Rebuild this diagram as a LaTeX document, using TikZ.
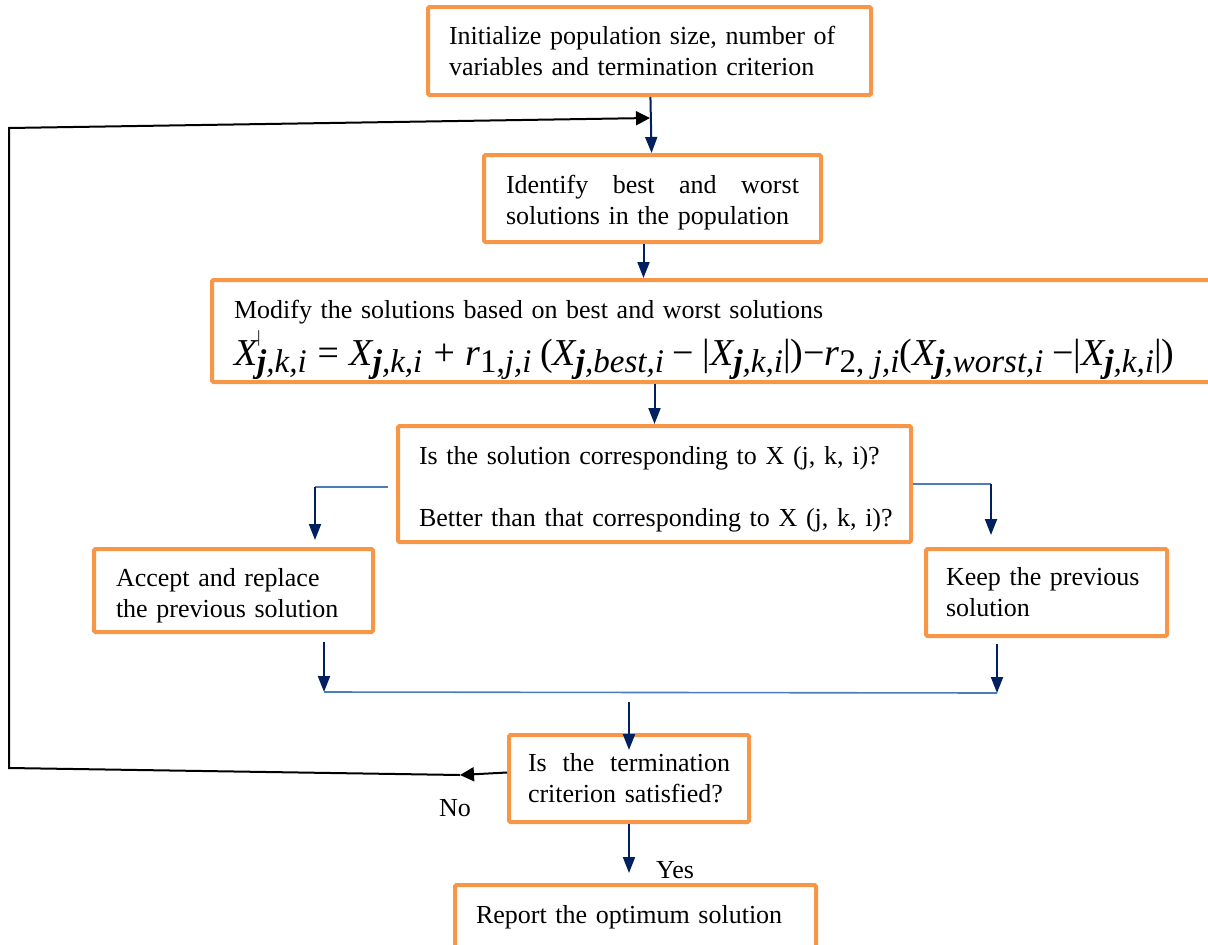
\documentclass[tikz,border=0pt]{standalone}
\usepackage{fontspec}
\setmainfont{Liberation Serif}
\usepackage{tikz}
\usetikzlibrary{arrows.meta}

\definecolor{boxorange}{HTML}{F79646}
\definecolor{arrownavy}{HTML}{002060}
\definecolor{splitblue}{HTML}{4A7EBB}

% index set low after a symbol
\newcommand{\lowidx}[1]{\raisebox{-0.18em}{\fontsize{33}{33}\selectfont\itshape #1}}
\newcommand{\bj}{\textbf{\textit{j}}}
\newcommand{\upmark}{\makebox[0pt][l]{\raisebox{0.6em}{\fontsize{17}{17}\selectfont\upshape |}}}

\begin{document}
\begin{tikzpicture}[x=1pt, y=-1pt,
    procbox/.style={draw=boxorange, line width=4pt, rounded corners=1.5pt,
        align=left, inner ysep=0pt, font=\fontsize{26}{31}\selectfont,
        execute at begin node={\hyphenpenalty=10000}},
    flow/.style={draw=arrownavy, line width=2pt, -{Triangle[width=12pt,length=16pt]}},
    splitline/.style={draw=splitblue, line width=1.6pt},
    backline/.style={draw=black, line width=2pt},
    tag/.style={font=\fontsize{26}{31}\selectfont, inner sep=0pt}]
    \useasboundingbox (0,0) rectangle (1208,945);

    % draw boxes
    \node[procbox, minimum width=443pt, minimum height=88pt, text width=401pt, inner xsep=21pt]
        (init) at (649.5,51) {Initialize population size, number of\\variables and termination criterion};
    \node[procbox, minimum width=337pt, minimum height=87pt, text width=293pt, inner xsep=22pt]
        (ident) at (652.5,198.5) {\rule{0pt}{26pt}Identify\hfill best\hfill and\hfill worst\\solutions in the population};
    \node[procbox, minimum width=1002pt, minimum height=102pt, text width=958pt, inner xsep=22pt]
        (modify) at (713,331) {\rule{0pt}{36pt}Modify the solutions based on best and worst solutions\\[6pt]
        \mbox{\fontsize{38}{38}\selectfont\itshape X\upmark\lowidx{\bj,k,i} = X\lowidx{\bj,k,i} + r\lowidx{\upshape 1,\itshape j,i}
        {\upshape(}X\lowidx{\bj,best,i} {\upshape −} {\upshape|}X\lowidx{\bj,k,i}{\upshape|)}{\upshape −}r\lowidx{\upshape 2, \itshape j,i}{\upshape(}X\lowidx{\bj,worst,i} {\upshape −}{\upshape|}X\lowidx{\bj,k,i}{\upshape|)}}};
    \node[procbox, minimum width=513pt, minimum height=116pt, text width=471pt, inner xsep=21pt]
        (decide) at (654.5,484) {\rule{0pt}{28pt}\mbox{Is the solution corresponding to X (j, k, i)?}\\[31pt]\mbox{Better than that corresponding to X (j, k, i)?}};
    \node[procbox, minimum width=279pt, minimum height=83pt, text width=235pt, inner xsep=22pt]
        (accept) at (233.5,590.5) {\rule{0pt}{28pt}Accept and replace\\the previous solution};
    \node[procbox, minimum width=241pt, minimum height=87pt, text width=201pt, inner xsep=20pt]
        (keep) at (1046.5,592.5) {Keep the previous\\solution};
    \node[procbox, minimum width=240pt, minimum height=87pt, text width=202pt, inner xsep=19pt]
        (term) at (629,778.5) {Is\hfill the\hfill termination\\criterion satisfied?};
    \node[procbox, minimum width=361pt, minimum height=64pt, text width=319pt, inner xsep=21pt]
        (report) at (635.5,917) {Report the optimum solution};

    % labels
    \node[tag] (yes) at (675,870) {Yes};
    \node[tag] (no) at (455,808) {No};

    % corner points
    \coordinate (lsplit) at (315,487);
    \coordinate (rsplit) at (991,484);
    \coordinate (lmerge) at (324,692);
    \coordinate (rmerge) at (997,693);
    \coordinate (noarrow) at (460,775);
    \coordinate (cbot) at (9,768);
    \coordinate (ctop) at (9,128);
    \coordinate (loopin) at (650,118);

    % draw main arrows
    \draw[flow] (init) -- (ident);
    \draw[flow] ([xshift=-9pt]ident.south) -- ([xshift=-9pt]ident.south |- modify.north);
    \draw[flow] (decide.north |- modify.south) -- (decide.north);

    % draw branches
    \draw[splitline] ([xshift=-8pt]decide.west |- lsplit) -- (lsplit);
    \draw[flow, shorten >=7pt] (lsplit) -- (lsplit |- accept.north);
    \draw[splitline] (decide.east |- rsplit) -- (rsplit);
    \draw[flow, shorten >=12pt] (rsplit) -- (rsplit |- keep.north);

    % draw merge
    \draw[flow, shorten <=8pt] (lmerge |- accept.south) -- (lmerge);
    \draw[flow, shorten <=6pt] (rmerge |- keep.south) -- (rmerge);
    \draw[splitline] (lmerge) -- (rmerge);
    \draw[flow, shorten <=10pt, shorten >=-17pt] (term.north |- lmerge) -- (term.north);
    \draw[flow, shorten >=10pt] (term.south) -- (term.south |- report.north);

    % draw way back
    \draw[backline, -{Triangle[width=14pt,length=14pt]}] ([yshift=6pt]term.west) -- (noarrow);
    \draw[backline, -{Triangle[width=14pt,length=14pt]}] (noarrow) -- (cbot) -- (ctop) -- (loopin);
\end{tikzpicture}
\end{document}
